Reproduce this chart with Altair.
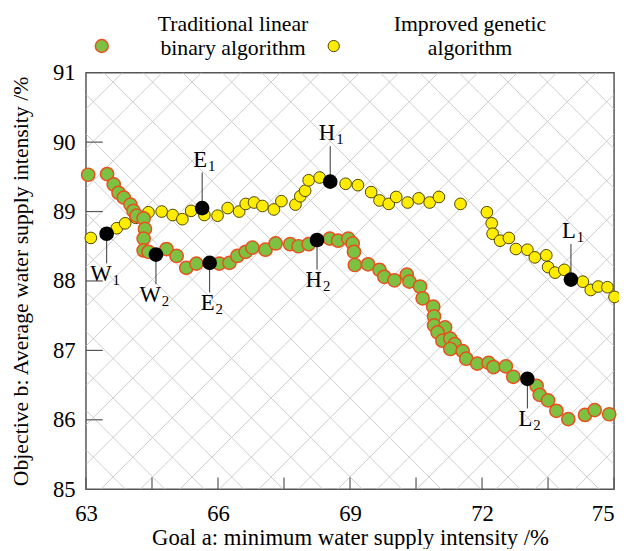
import altair as alt
import numpy as np
import pandas as pd

FONT = "Liberation Serif"

# ---- data ----
trad_x = [63.05, 63.48, 63.63, 63.74, 63.86, 64.01, 64.08, 64.15, 64.31, 64.34,
          64.31, 64.31, 64.42, 64.83, 65.06, 65.28, 65.51, 66.03, 66.26, 66.44,
          66.63, 66.78, 67.08, 67.31, 67.64, 67.83, 68.06, 68.54, 68.73, 68.96,
          69.06, 69.09, 69.11, 69.41, 69.67, 69.78, 70.01, 70.29, 70.35, 70.59,
          70.65, 70.89, 70.91, 70.91, 71.16, 70.99, 71.10, 71.28, 71.38, 71.28,
          71.56, 71.64, 71.89, 72.15, 72.26, 72.54, 72.71, 73.24, 73.31, 73.50,
          73.69, 73.96, 74.34, 74.56, 74.89]
trad_y = [89.53, 89.54, 89.39, 89.27, 89.20, 89.10, 89.01, 88.94, 88.90, 88.75,
          88.61, 88.44, 88.42, 88.46, 88.36, 88.19, 88.25, 88.25, 88.26, 88.36,
          88.42, 88.48, 88.45, 88.54, 88.53, 88.50, 88.53, 88.61, 88.58, 88.61,
          88.54, 88.42, 88.23, 88.24, 88.16, 88.06, 88.01, 88.09, 87.99, 87.92,
          87.75, 87.63, 87.49, 87.36, 87.33, 87.26, 87.14, 87.17, 87.09, 87.02,
          86.99, 86.88, 86.81, 86.82, 86.76, 86.77, 86.62, 86.49, 86.36, 86.28,
          86.13, 86.01, 86.07, 86.14, 86.08]

impr_x = [63.11, 63.70, 63.89, 64.13, 64.42, 64.72, 64.97, 65.19, 65.39, 65.69,
          65.99, 66.22, 66.48, 66.63, 66.82, 67.01, 67.27, 67.44, 67.76, 67.87,
          67.98, 68.06, 68.31, 68.90, 69.18, 69.48, 69.67, 69.88, 70.05, 70.31,
          70.56, 70.81, 71.02, 71.51, 72.11, 72.22, 72.24, 72.41, 72.61, 72.77,
          73.03, 73.20, 73.46, 73.50, 73.66, 73.87, 74.29, 74.47, 74.64, 74.85,
          75.01]
impr_y = [88.62, 88.76, 88.83, 88.91, 88.99, 89.00, 88.95, 88.89, 89.01, 88.95,
          88.94, 89.05, 89.00, 89.11, 89.13, 89.08, 89.03, 89.15, 89.10, 89.22,
          89.30, 89.45, 89.49, 89.40, 89.38, 89.28, 89.16, 89.11, 89.21, 89.13,
          89.19, 89.13, 89.21, 89.11, 88.99, 88.83, 88.68, 88.58, 88.62, 88.46,
          88.45, 88.34, 88.37, 88.20, 88.12, 88.16, 87.99, 87.87, 87.92, 87.91,
          87.77]

key_letter = ["W", "W", "E", "E", "H", "H", "L", "L"]
key_sub = ["1", "2", "1", "2", "1", "2", "1", "2"]
key_x = [63.47, 64.59, 65.64, 65.81, 68.55, 68.25, 74.02, 73.03]
key_y = [88.68, 88.38, 89.05, 88.26, 89.43, 88.59, 88.02, 86.59]
key_side = ["below", "below", "above", "below", "above", "below", "above", "below"]

x_tick_values = [63, 64.5, 66, 67.5, 69, 70.5, 72, 73.5, 75]
x_label_values = [63, 66, 69, 72, 75]
y_tick_values = [85, 86, 87, 88, 89, 90, 91]

legend_trad = "Traditional linear\nbinary algorithm"
legend_impr = "Improved genetic\nalgorithm"

# ---- layout ----
W, H = 535, 422
XD = [63, 75]
YD = [85, 91]
ppx = W / (XD[1] - XD[0])
ppy = H / (YD[1] - YD[0])

trad = pd.DataFrame({"x": trad_x, "y": trad_y})
impr = pd.DataFrame({"x": impr_x, "y": impr_y})
keys = pd.DataFrame({"x": key_x, "y": key_y, "letter": key_letter,
                     "sub": key_sub, "side": key_side})

# background cross hatching (decoration, 45 degree lines in pixel space)
step = 40
hrows = []
for c in np.arange(-W, H + 1, step):
    hrows.append({"x": XD[0], "y": YD[0] + c / ppy,
                  "x2": XD[1], "y2": YD[0] + (W + c) / ppy})
for c in np.arange(0, W + H + 1, step):
    hrows.append({"x": XD[0], "y": YD[0] + c / ppy,
                  "x2": XD[1], "y2": YD[0] + (c - W) / ppy})
hatch = pd.DataFrame(hrows)

xs = alt.Scale(domain=XD, nice=False, zero=False)
ys = alt.Scale(domain=YD, nice=False, zero=False)

x_axis = alt.Axis(values=x_label_values, ticks=False, tickSize=0, domain=False,
                  grid=False, labelFont=FONT, labelFontSize=23, labelColor="black",
                  labelPadding=14, labelFlush=False,
                  labelAlign={"condition": {"test": "datum.value == 75", "value": "right"},
                              "value": "center"},
                  title="Goal a: minimum water supply intensity /%",
                  titleFont=FONT, titleFontSize=23, titleFontWeight="normal",
                  titleColor="black", titlePadding=1)
y_axis = alt.Axis(values=y_tick_values, ticks=False, tickSize=0, domain=False,
                  grid=False, labelFont=FONT, labelFontSize=23, labelColor="black",
                  labelPadding=11,
                  title="Objective b: Average water supply intensity /%",
                  titleFont=FONT, titleFontSize=22, titleFontWeight="normal",
                  titleColor="black", titlePadding=20)

X = alt.X("x:Q", scale=xs, axis=x_axis)
Y = alt.Y("y:Q", scale=ys, axis=y_axis)

hatch_layer = alt.Chart(hatch).mark_rule(
    color="#c8c8c8", strokeWidth=0.9, clip=True
).encode(x=X, y=Y, x2="x2:Q", y2="y2:Q")

xticks = alt.Chart(pd.DataFrame({"x": x_tick_values})).mark_rule(
    color="#555555", strokeWidth=1.2
).encode(x=X, y=alt.value(H), y2=alt.value(H - 12))

yticks = alt.Chart(pd.DataFrame({"y": y_tick_values[1:-1]})).mark_rule(
    color="#555555", strokeWidth=1.2
).encode(y=Y, x=alt.value(0), x2=alt.value(17))

impr_layer = alt.Chart(impr).mark_circle(
    size=140, fill="#ffec00", stroke="#4d4500", strokeWidth=1, opacity=1
).encode(x=X, y=Y)

trad_layer = alt.Chart(trad).mark_circle(
    size=180, fill="#7cc142", stroke="#e8501e", strokeWidth=1.5, opacity=1
).encode(x=X, y=Y)

below = alt.Chart(keys).transform_filter(alt.datum.side == "below")
above = alt.Chart(keys).transform_filter(alt.datum.side == "above")

lead_below = below.transform_calculate(ye="datum.y - 30/" + str(ppy)).mark_rule(
    color="#333333", strokeWidth=1).encode(x=X, y=Y, y2="ye:Q")
lead_above = above.transform_calculate(ye="datum.y + 36/" + str(ppy)).mark_rule(
    color="#333333", strokeWidth=1).encode(x=X, y=Y, y2="ye:Q")

key_pts = alt.Chart(keys).mark_circle(size=220, color="black", opacity=1).encode(x=X, y=Y)

def lab(base, dy):
    main = base.mark_text(font=FONT, fontSize=23, color="black", align="right",
                          baseline="middle", dx=5, dy=dy).encode(x=X, y=Y, text="letter:N")
    sub = base.mark_text(font=FONT, fontSize=15, color="black", align="left",
                         baseline="middle", dx=6, dy=dy + 6).encode(x=X, y=Y, text="sub:N")
    return main + sub

labels = lab(below, 41) + lab(above, -49)

# custom legend above the plot
leg_df = pd.DataFrame({"t": [legend_trad, legend_impr]})
leg_sym1 = alt.Chart(leg_df.iloc[[0]]).mark_circle(
    size=170, fill="#7cc142", stroke="#e8501e", strokeWidth=1.5, opacity=1
).encode(x=alt.value(16), y=alt.value(-27))
leg_txt1 = alt.Chart(leg_df.iloc[[0]]).mark_text(
    font=FONT, fontSize=22, color="black", align="center", baseline="middle",
    lineBreak="\n", lineHeight=24
).encode(x=alt.value(149), y=alt.value(-49), text="t:N")
leg_sym2 = alt.Chart(leg_df.iloc[[1]]).mark_circle(
    size=130, fill="#ffec00", stroke="#4d4500", strokeWidth=1, opacity=1
).encode(x=alt.value(251), y=alt.value(-27))
leg_txt2 = alt.Chart(leg_df.iloc[[1]]).mark_text(
    font=FONT, fontSize=22, color="black", align="center", baseline="middle",
    lineBreak="\n", lineHeight=24
).encode(x=alt.value(389), y=alt.value(-49), text="t:N")

chart = alt.layer(
    hatch_layer, xticks, yticks, impr_layer, trad_layer,
    lead_below, lead_above, key_pts, labels,
    leg_sym1, leg_txt1, leg_sym2, leg_txt2
).properties(
    width=W, height=H,
    autosize=alt.AutoSizeParams(type="none"),
    padding={"left": 79, "top": 62, "right": 5, "bottom": 57},
    background="white"
).configure_view(stroke="#555555", strokeWidth=1.5)

chart.save("out.html", embed_options={"renderer": "svg", "actions": False})
